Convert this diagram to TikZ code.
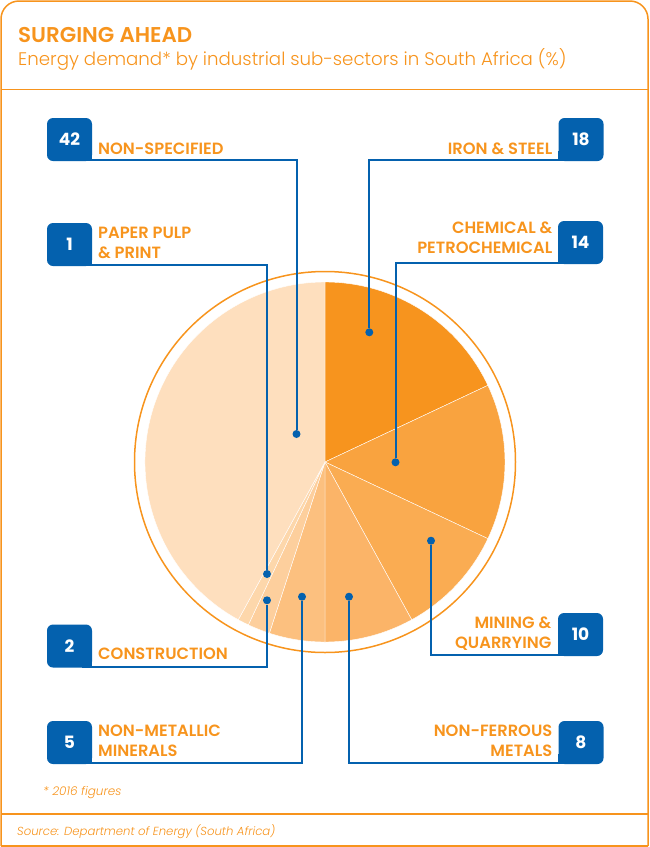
\documentclass[tikz,border=0pt]{standalone}
\usepackage{fontspec}
\setmainfont{Poppins}
\newfontfamily\lightfont{Poppins Light}
\newfontfamily\semifont{Poppins SemiBold}
\definecolor{frameor}{HTML}{F7941D}
\definecolor{boxblue}{HTML}{0461AE}
\definecolor{cIron}{HTML}{F7941E}
\definecolor{cChem}{HTML}{F9A33F}
\definecolor{cMin}{HTML}{FAAC52}
\definecolor{cFerr}{HTML}{FBB468}
\definecolor{cMetal}{HTML}{FCC07F}
\definecolor{cCons}{HTML}{FDCF9D}
\definecolor{cPaper}{HTML}{FDD7AB}
\definecolor{cSpec}{HTML}{FEDFBE}
\begin{document}
\begin{tikzpicture}[x=1pt,y=-1pt,
  numbox/.style={fill=boxblue,text=white,font=\fontsize{17}{17}\selectfont\bfseries,
    minimum width=45pt,minimum height=43pt,rounded corners=6pt,inner sep=0pt},
  lbl/.style={text=frameor,font=\fontsize{16.3}{20}\selectfont\semifont,inner sep=0pt,text depth=0pt},
  dotn/.style={circle,fill=boxblue,minimum size=8pt,inner sep=0pt},
  conn/.style={draw=boxblue,line width=2pt},
  slice/.style={draw=white,line width=0.4pt}]
\useasboundingbox (0,0) rectangle (650,847);
% frame
\draw[frameor,line width=1.5pt,rounded corners=18pt] (1,846) -- (1,1) -- (648,1) -- (648,846);
\draw[frameor,line width=1.5pt] (1,846) -- (648,846);
\draw[frameor,line width=1.5pt] (1,89.5) -- (648,89.5);
\draw[frameor,line width=1.5pt] (1,814) -- (648,814);
% title
\node[anchor=base west,inner sep=0pt,text=frameor,font=\fontsize{21.4}{22}\selectfont\semifont] (title) at (18,42.7) {SURGING AHEAD};
\node[anchor=base west,inner sep=0pt,text=frameor,font=\fontsize{18.2}{20}\selectfont\lightfont] (sub) at (18,65.7) {Energy demand* by industrial sub-sectors in South Africa (\%)};
% pie
\begin{scope}[shift={(325,462)},yscale=-1]
\filldraw[slice,fill=cIron] (0,0) -- (90:180) arc[start angle=90,end angle=25.2,radius=180] -- cycle;
\filldraw[slice,fill=cChem] (0,0) -- (25.2:180) arc[start angle=25.2,end angle=-25.2,radius=180] -- cycle;
\filldraw[slice,fill=cMin] (0,0) -- (-25.2:180) arc[start angle=-25.2,end angle=-61.2,radius=180] -- cycle;
\filldraw[slice,fill=cFerr] (0,0) -- (-61.2:180) arc[start angle=-61.2,end angle=-90,radius=180] -- cycle;
\filldraw[slice,fill=cMetal] (0,0) -- (-90:180) arc[start angle=-90,end angle=-108,radius=180] -- cycle;
\filldraw[slice,fill=cCons] (0,0) -- (-108:180) arc[start angle=-108,end angle=-115.2,radius=180] -- cycle;
\filldraw[slice,fill=cPaper] (0,0) -- (-115.2:180) arc[start angle=-115.2,end angle=-118.8,radius=180] -- cycle;
\filldraw[slice,fill=cSpec] (0,0) -- (-118.8:180) arc[start angle=-118.8,end angle=-270,radius=180] -- cycle;
\draw[frameor,line width=1.5pt] (0,0) circle[radius=190.5];
\end{scope}
% dots
\node[dotn] (dSpec) at (296.5,434) {};
\node[dotn] (dPaper) at (267,574) {};
\node[dotn] (dCons) at (267,600.3) {};
\node[dotn] (dMetal) at (302,596.7) {};
\node[dotn] (dFerr) at (349,596.7) {};
\node[dotn] (dMin) at (431,540.7) {};
\node[dotn] (dChem) at (395.5,462.3) {};
\node[dotn] (dIron) at (369.3,332.3) {};
% left boxes
\node[numbox] (bSpec) at (69.5,139.5) {42};
\fill[boxblue] (bSpec.south east) rectangle ++(-10,-10);
\node[numbox] (bPaper) at (69.5,244.5) {1};
\fill[boxblue] (bPaper.south east) rectangle ++(-10,-10);
\node[numbox] (bCons) at (69.5,646) {2};
\fill[boxblue] (bCons.south east) rectangle ++(-10,-10);
\node[numbox] (bMetal) at (69.5,742.5) {5};
\fill[boxblue] (bMetal.south east) rectangle ++(-10,-10);
% right boxes
\node[numbox] (bIron) at (581,139.5) {18};
\fill[boxblue] (bIron.south west) rectangle ++(10,-10);
\node[numbox] (bChem) at (580.5,242.5) {14};
\fill[boxblue] (bChem.south west) rectangle ++(10,-10);
\node[numbox] (bMin) at (580.5,634.5) {10};
\fill[boxblue] (bMin.south west) rectangle ++(10,-10);
\node[numbox] (bFerr) at (581,742.5) {8};
\fill[boxblue] (bFerr.south west) rectangle ++(10,-10);
% labels
\node[lbl,anchor=south west] (lSpec) at (98,154.3) {NON-SPECIFIED};
\node[lbl,anchor=south west,align=left] (lPaper) at (98,259) {PAPER PULP\\\& PRINT};
\node[lbl,anchor=south west] (lCons) at (98,660) {CONSTRUCTION};
\node[lbl,anchor=south west,align=left] (lMetal) at (98,756.7) {NON-METALLIC\\MINERALS};
\node[lbl,anchor=south east] (lIron) at (552.5,154.3) {IRON \& STEEL};
\node[lbl,anchor=south east,align=right] (lChem) at (552.5,253.3) {CHEMICAL \&\\PETROCHEMICAL};
\node[lbl,anchor=south east,align=right] (lMin) at (551.5,648.3) {MINING \&\\QUARRYING};
\node[lbl,anchor=south east,align=right] (lFerr) at (552.5,756.7) {NON-FERROUS\\METALS};
% connectors
\draw[conn] ([yshift=1pt]bSpec.south east) -| (dSpec);
\draw[conn] ([yshift=1pt]bPaper.south east) -| (dPaper);
\draw[conn] ([yshift=1pt]bCons.south east) -| (dCons);
\draw[conn] ([yshift=1pt]bMetal.south east) -| (dMetal);
\draw[conn] ([yshift=1pt]bIron.south west) -| (dIron);
\draw[conn] ([yshift=1pt]bChem.south west) -| (dChem);
\draw[conn] ([yshift=1pt]bMin.south west) -| (dMin);
\draw[conn] ([yshift=1pt]bFerr.south west) -| (dFerr);
% footnotes
\node[anchor=base west,inner sep=0pt,text=frameor,font=\fontsize{12}{14}\selectfont\lightfont\itshape] (fn) at (43,795) {* 2016 figures};
\node[anchor=base west,inner sep=0pt,text=frameor,font=\fontsize{11.7}{14}\selectfont\lightfont\itshape] (src) at (17,835) {Source: Department of Energy (South Africa)};
\end{tikzpicture}
\end{document}
